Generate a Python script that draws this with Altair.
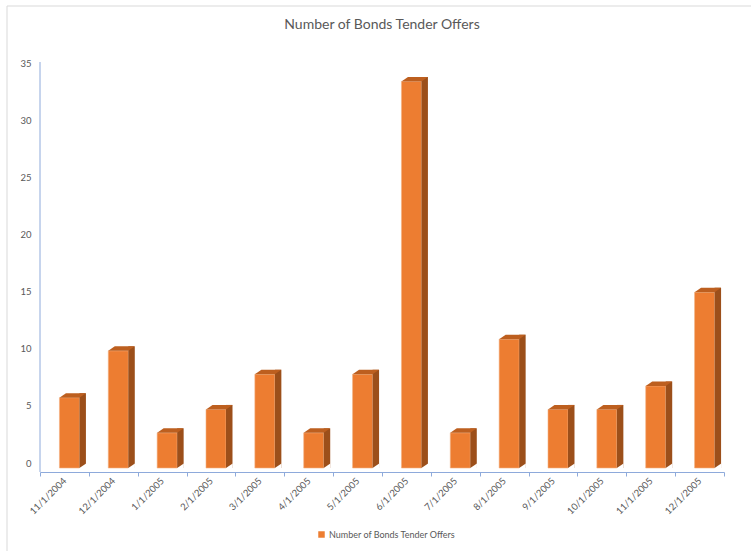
import altair as alt
import pandas as pd

dates = ["11/1/2004", "12/1/2004", "1/1/2005", "2/1/2005", "3/1/2005", "4/1/2005",
         "5/1/2005", "6/1/2005", "7/1/2005", "8/1/2005", "9/1/2005", "10/1/2005",
         "11/1/2005", "12/1/2005"]
values = [6, 10, 3, 5, 8, 3, 8, 33, 3, 11, 5, 5, 7, 15]
series_name = "Number of Bonds Tender Offers"
y_ticks = [0, 5, 10, 15, 20, 25, 30, 35]

df = pd.DataFrame({"date": dates, "value": values, "series": series_name, "zero": 0})
one = pd.DataFrame({"top": [35], "bottom": [0]})

FRONT = "#ED7D31"
SIDE = "#9C4F1A"
TOP = "#BD5F1F"
AXIS = "#8EAADB"
TXT = "#595959"
FONT = "Lato"

xenc = alt.X("date:N", sort=dates,
             scale=alt.Scale(paddingInner=0, paddingOuter=0),
             axis=alt.Axis(title=None, labelAngle=-45, labelAlign="right", labelBaseline="middle",
                           labelFont=FONT, labelFontSize=9.5, labelColor=TXT, labelPadding=3,
                           tickBand="extent", tickSize=4, tickColor=AXIS, domainColor=AXIS,
                           offset=4, grid=False, labelOverlap=False))
yscale = alt.Scale(domain=[0, 35], nice=False, zero=True)

base = alt.Chart(df)

front = base.mark_bar(width=20, xOffset=5, stroke="#F4B183", strokeWidth=0.6).encode(
    x=xenc,
    y=alt.Y("value:Q", scale=yscale, axis=None),
    color=alt.Color("series:N", scale=alt.Scale(range=[FRONT]),
                    legend=alt.Legend(orient="none", legendX=277, legendY=472, title=None,
                                      symbolType="square", symbolSize=42, symbolStrokeWidth=0,
                                      labelFont=FONT, labelFontSize=9, labelColor=TXT,
                                      labelOffset=3, padding=0)),
)

side = base.mark_bar(width=6.5, xOffset=18.25, yOffset=-4.5, y2Offset=0, color=SIDE).encode(
    x=alt.X("date:N", sort=dates),
    y=alt.Y("value:Q", scale=yscale, axis=None),
    y2="zero:Q",
)

tri = base.mark_point(shape="M -1 0.72 L 1.05 0.72 L 1.05 -0.72 Z", size=42.25, filled=True,
                      color="white", opacity=1, strokeWidth=0, xOffset=18.25, yOffset=-2.25).encode(
    x=alt.X("date:N", sort=dates),
    y=alt.Y("zero:Q", scale=yscale, axis=None),
)

topface = base.mark_point(shape="M -1 0.17 L -0.509 -0.17 L 1 -0.17 L 0.509 0.17 Z", size=702.25,
                          filled=True, color=TOP, opacity=1, strokeWidth=0,
                          xOffset=8.25, yOffset=-2.25).encode(
    x=alt.X("date:N", sort=dates),
    y=alt.Y("value:Q", scale=yscale, axis=None),
)

bars = alt.layer(front, side, tri, topface)

yaxis = alt.Chart(one).mark_rule(color=AXIS, strokeWidth=1, yOffset=-1, y2Offset=9).encode(
    x=alt.value(0),
    y=alt.Y("top:Q", scale=alt.Scale(domain=[0, 35], range=[405, 5], nice=False, zero=True),
            axis=alt.Axis(orient="left", values=y_ticks, ticks=False, domain=False, grid=False,
                          labelPadding=9, labelFont=FONT, labelFontSize=9.5, labelColor=TXT,
                          title=None)),
    y2="bottom:Q",
)

border_left = alt.Chart(one).mark_rule(color="#D9D9D9").encode(
    x=alt.value(-33), y=alt.value(-52), y2=alt.value(493))
border_top = alt.Chart(one).mark_rule(color="#D9D9D9").encode(
    x=alt.value(-33), x2=alt.value(711), y=alt.value(-52))

chart = alt.layer(bars, yaxis, border_left, border_top).resolve_scale(
    y="independent"
).properties(
    width=684, height=410,
    title=alt.Title(series_name, font=FONT, fontSize=14, fontWeight="normal",
                    color=TXT, anchor="middle", frame="group", offset=0, dy=26),
    autosize=alt.AutoSizeParams(type="none"),
    padding={"left": 40, "top": 58, "right": 27, "bottom": 83},
    background="white",
).configure_view(strokeWidth=0, stroke="transparent")

chart.save("out.html", embed_options={"renderer": "svg", "actions": False})
